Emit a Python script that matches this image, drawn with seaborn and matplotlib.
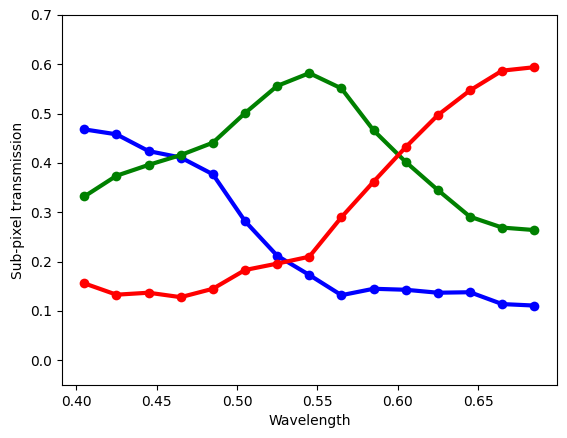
import numpy as np
import pandas as pd
import matplotlib
matplotlib.use('Agg')
import matplotlib.pyplot as plt
import seaborn as sns

# 파장별 서브픽셀 투과율
wavelength = [0.405, 0.425, 0.445, 0.465, 0.485, 0.505, 0.525, 0.545,
              0.565, 0.585, 0.605, 0.625, 0.645, 0.665, 0.685]
blue = [0.468, 0.458, 0.424, 0.411, 0.377, 0.282, 0.212, 0.173,
        0.132, 0.145, 0.143, 0.137, 0.138, 0.114, 0.111]
green = [0.332, 0.374, 0.396, 0.416, 0.441, 0.501, 0.556, 0.582,
         0.551, 0.466, 0.402, 0.345, 0.291, 0.269, 0.264]
red = [0.156, 0.133, 0.137, 0.128, 0.145, 0.183, 0.196, 0.210,
       0.290, 0.362, 0.432, 0.497, 0.547, 0.587, 0.594]

df = pd.DataFrame({'Wavelength': wavelength, 'blue': blue, 'green': green, 'red': red})
df_long = df.melt(id_vars='Wavelength', var_name='channel', value_name='trans')

fig, ax = plt.subplots(figsize=(5.67, 4.38), dpi=100)
fig.subplots_adjust(left=0.109, right=0.982, top=0.966, bottom=0.121)

sns.lineplot(data=df_long, x='Wavelength', y='trans', hue='channel',
             palette={'blue': 'blue', 'green': 'green', 'red': 'red'},
             marker='o', markersize=7, markeredgewidth=0, linewidth=3,
             legend=False, ax=ax)

ax.set_ylim(-0.05, 0.7)
ax.set_xlabel('Wavelength')
ax.set_ylabel('Sub-pixel transmission')

plt.savefig('out.png', dpi=100)
